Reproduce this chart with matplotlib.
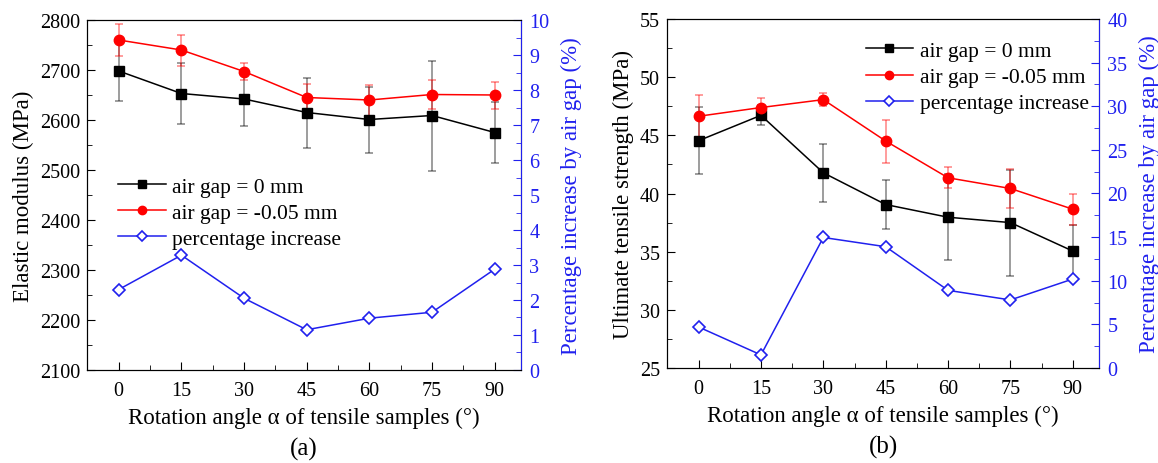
import numpy as np
import matplotlib.pyplot as plt
from matplotlib.ticker import MultipleLocator

plt.rcParams['font.family'] = ['Liberation Serif', 'DejaVu Serif']

angles = [0, 15, 30, 45, 60, 75, 90]

# (a) elastic modulus
em_gap0 = [2698, 2653, 2642, 2615, 2601, 2609, 2575]
em_gap0_err = [59, 61, 53, 70, 66, 110, 61]
em_gapm = [2760, 2740, 2697, 2645, 2640, 2651, 2650]
em_gapm_err = [32, 31, 17, 28, 31, 29, 27]
em_pct = [2.3, 3.28, 2.05, 1.15, 1.48, 1.65, 2.88]

# (b) ultimate tensile strength
uts_gap0 = [44.54, 46.72, 41.78, 39.05, 37.96, 37.50, 35.05]
uts_gap0_err = [2.9, 0.85, 2.5, 2.1, 3.7, 4.55, 2.2]
uts_gapm = [46.64, 47.39, 48.07, 44.51, 41.35, 40.43, 38.65]
uts_gapm_err = [1.8, 0.85, 0.55, 1.85, 0.9, 1.7, 1.35]
uts_pct = [4.7, 1.5, 14.96, 13.9, 8.9, 7.8, 10.2]

blue = '#2020ee'
fs_tick = 14.5
fs_lab = 16.5
fs_leg = 15.5

fig = plt.figure(figsize=(11.58, 4.64), dpi=100)
W, H = 1158, 464


def make_axes(x0, x1, y0, y1):
    return fig.add_axes([x0 / W, 1 - y1 / H, (x1 - x0) / W, (y1 - y0) / H])


def panel(ax, y0, y0e, y1, y1e, pct, ylim, ymaj, ymin, ylabel,
          plim, pmaj, pmin, leg_anchor, tag):
    e0 = ax.errorbar(angles, y0, yerr=y0e, color='black', marker='s', ms=7,
                     lw=1.1, ecolor=(0, 0, 0, 0.45), elinewidth=1.2,
                     capsize=3, capthick=1.2, zorder=3)
    e1 = ax.errorbar(angles, y1, yerr=y1e, color='red', marker='o', ms=7.5,
                     lw=1.1, ecolor=(1, 0, 0, 0.45), elinewidth=1.2,
                     capsize=3, capthick=1.2, zorder=3)
    ax.set_xlim(-7.6, 96.3)
    ax.set_ylim(*ylim)
    ax.set_xticks(angles)
    ax.xaxis.set_minor_locator(MultipleLocator(7.5))
    ax.yaxis.set_major_locator(MultipleLocator(ymaj))
    ax.yaxis.set_minor_locator(MultipleLocator(ymin))
    ax.tick_params(which='both', direction='in', labelsize=fs_tick, top=False)
    ax.tick_params(axis='x', pad=8)
    ax.tick_params(axis='y', pad=5)
    ax.tick_params(which='major', length=6)
    ax.tick_params(which='minor', length=3.5)
    ax.set_ylabel(ylabel, fontsize=fs_lab, labelpad=4)
    ax.set_xlabel('Rotation angle \u03b1 of tensile samples (\u00b0)',
                  fontsize=fs_lab, labelpad=5)
    ax.text(0.5, -0.225, tag, transform=ax.transAxes, ha='center',
            va='center', fontsize=18)

    ax2 = ax.twinx()
    p, = ax2.plot(angles, pct, color=blue, marker='D', ms=6.5, mfc='white',
                  mec=blue, mew=1.2, lw=1.1)
    ax2.set_ylim(*plim)
    ax2.yaxis.set_major_locator(MultipleLocator(pmaj))
    ax2.yaxis.set_minor_locator(MultipleLocator(pmin))
    ax2.tick_params(which='both', direction='in', labelsize=fs_tick,
                    colors=blue, pad=6)
    ax2.tick_params(which='major', length=6)
    ax2.tick_params(which='minor', length=3.5)
    ax2.spines['right'].set_color(blue)
    ax2.set_ylabel('Percentage increase by air gap (%)', color=blue,
                   fontsize=fs_lab, labelpad=8)

    ax2.legend([e0[0], e1[0], p],
               ['air gap = 0 mm', 'air gap = -0.05 mm', 'percentage increase'],
               loc='upper left', bbox_to_anchor=leg_anchor,
               frameon=False, fontsize=fs_leg, handlelength=2.2,
               handletextpad=0.3, labelspacing=0.28, borderaxespad=0,
               markerscale=0.8)


ax_a = make_axes(87, 521, 21, 371)
panel(ax_a, em_gap0, em_gap0_err, em_gapm, em_gapm_err, em_pct,
      (2100, 2800), 100, 50, 'Elastic modulus (MPa)',
      (0, 10), 1, 0.5, (0.052, 0.577), '(a)')

ax_b = make_axes(667, 1099, 20, 369)
panel(ax_b, uts_gap0, uts_gap0_err, uts_gapm, uts_gapm_err, uts_pct,
      (25, 55), 5, 2.5, 'Ultimate tensile strength (MPa)',
      (0, 40), 5, 2.5, (0.44, 0.962), '(b)')

fig.savefig('out.png', dpi=100)
